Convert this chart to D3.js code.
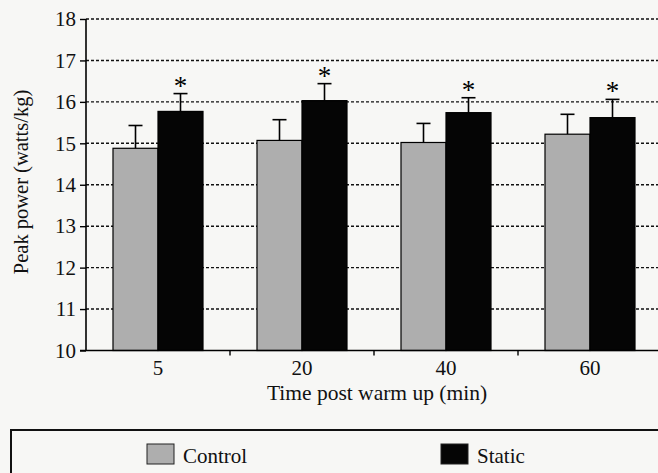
<!DOCTYPE html>
<html>
<head>
<meta charset="utf-8">
<script src="https://cdn.jsdelivr.net/npm/d3@7"></script>
<style>
  body { margin: 0; background: #f7f7f5; }
  svg { display: block; font-family: "Liberation Serif", "DejaVu Serif", serif; }
</style>
</head>
<body>
<div id="chart"></div>
<script>
// values
const times = ['5', '20', '40', '60'];
const series = ['Control', 'Static'];
const controlMean = [14.88, 15.07, 15.02, 15.22];
const controlErr = [0.55, 0.5, 0.46, 0.48];
const staticMean = [15.77, 16.03, 15.74, 15.62];
const staticErr = [0.43, 0.41, 0.36, 0.44];
const significant = [true, true, true, true];
const yTicks = [10, 11, 12, 13, 14, 15, 16, 17, 18];

const W = 658, H = 473;
const margin = {top: 19, left: 86, bottom: 122};
const plotRight = 662;
const fontSize = 21;

const svg = d3.select('#chart').append('svg')
    .attr('width', W)
    .attr('height', H);

const x = d3.scaleBand()
    .domain(times)
    .range([margin.left, plotRight])
    .paddingInner(0)
    .paddingOuter(0);

const xs = d3.scaleBand()
    .domain(series)
    .range([0, x.bandwidth()])
    .paddingInner(0)
    .paddingOuter(0.6);

const y = d3.scaleLinear()
    .domain([10, 18])
    .range([H - margin.bottom - 0.5, margin.top]);

const colours = {Control: '#aeaeae', Static: '#050505'};

// dashed gridlines
svg.append('g')
  .selectAll('line')
  .data(yTicks.filter(d => d > 10))
  .join('line')
    .attr('x1', margin.left)
    .attr('x2', W)
    .attr('y1', d => y(d))
    .attr('y2', d => y(d))
    .attr('stroke', '#111')
    .attr('stroke-width', 1.4)
    .attr('stroke-dasharray', '3,2');

// one row per bar
const rows = times.map((t, i) => [
  {time: t, s: 'Control', v: controlMean[i], e: controlErr[i], sig: false},
  {time: t, s: 'Static', v: staticMean[i], e: staticErr[i], sig: significant[i]}
]).flat();

const bars = svg.append('g');

// error bars (only upper half shows above the bar)
rows.forEach(d => {
  const cx = x(d.time) + xs(d.s) + xs.bandwidth() / 2;
  bars.append('line')
      .attr('x1', cx).attr('x2', cx)
      .attr('y1', y(d.v)).attr('y2', y(d.v + d.e))
      .attr('stroke', '#000').attr('stroke-width', 1.6);
  bars.append('line')
      .attr('x1', cx - 7).attr('x2', cx + 7)
      .attr('y1', y(d.v + d.e)).attr('y2', y(d.v + d.e))
      .attr('stroke', '#000').attr('stroke-width', 1.6);
  if (d.sig) {
    bars.append('text')
        .attr('x', cx)
        .attr('y', y(d.v + d.e) + 1)
        .attr('text-anchor', 'middle')
        .attr('font-size', 27)
        .text('*');
  }
});

bars.selectAll('rect')
  .data(rows)
  .join('rect')
    .attr('x', d => x(d.time) + xs(d.s))
    .attr('y', d => y(d.v))
    .attr('width', xs.bandwidth())
    .attr('height', d => y(10) - y(d.v))
    .attr('fill', d => colours[d.s])
    .attr('stroke', '#000')
    .attr('stroke-width', 1.2);

// Y axis
const yAxis = svg.append('g')
    .attr('transform', 'translate(' + margin.left + ',0)')
    .call(d3.axisLeft(y).tickValues(yTicks).tickSize(6).tickPadding(4).tickFormat(d3.format('d')));
yAxis.select('.domain').attr('stroke-width', 1.6).attr('d', 'M0,' + y(10) + 'V' + y(18));
yAxis.selectAll('.tick line').attr('stroke-width', 1.4);
yAxis.selectAll('text').attr('font-size', fontSize).attr('fill', '#111')
    .attr('font-family', '"Liberation Serif", serif');

// X axis, ticks at band boundaries
const xAxisG = svg.append('g')
    .attr('transform', 'translate(0,' + y(10) + ')');
xAxisG.append('line')
    .attr('x1', margin.left - 6).attr('x2', W)
    .attr('stroke', '#000').attr('stroke-width', 1.6);
xAxisG.selectAll('.bt')
  .data(times.slice(1))
  .join('line')
    .attr('class', 'bt')
    .attr('x1', d => x(d)).attr('x2', d => x(d))
    .attr('y1', 0).attr('y2', 5)
    .attr('stroke', '#000').attr('stroke-width', 1.4);
xAxisG.selectAll('text')
  .data(times)
  .join('text')
    .attr('x', d => x(d) + x.bandwidth() / 2)
    .attr('y', 24)
    .attr('text-anchor', 'middle')
    .attr('font-size', fontSize)
    .attr('fill', '#111')
    .text(d => d);

// axis titles
svg.append('text')
    .attr('x', 377)
    .attr('y', 400)
    .attr('text-anchor', 'middle')
    .attr('font-size', 21.5)
    .attr('fill', '#111')
    .text('Time post warm up (min)');

svg.append('text')
    .attr('transform', 'translate(28,182) rotate(-90)')
    .attr('text-anchor', 'middle')
    .attr('font-size', 20.5)
    .attr('fill', '#111')
    .text('Peak power (watts/kg)');

// legend
const legend = svg.append('g');
legend.append('rect')
    .attr('x', 11).attr('y', 430)
    .attr('width', 700).attr('height', 100)
    .attr('fill', 'none')
    .attr('stroke', '#111').attr('stroke-width', 2);

const legendX = {Control: 147, Static: 441};
series.forEach(s => {
  legend.append('rect')
      .attr('x', legendX[s]).attr('y', 444)
      .attr('width', 27).attr('height', 20)
      .attr('fill', colours[s])
      .attr('stroke', '#222').attr('stroke-width', 1);
  legend.append('text')
      .attr('x', legendX[s] + 36)
      .attr('y', 463)
      .attr('font-size', fontSize)
      .attr('fill', '#111')
      .text(s);
});
</script>
</body>
</html>
